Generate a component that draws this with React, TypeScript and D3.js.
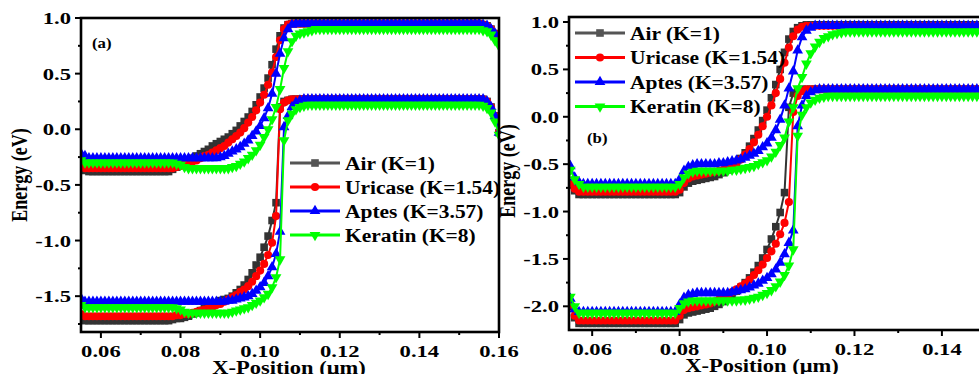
import React from "react";
import * as d3 from "d3";

const FONT = "'Liberation Serif', 'Times New Roman', serif";

const seriesNames = ["Air (K=1)", "Uricase (K=1.54)", "Aptes (K=3.57)", "Keratin (K=8)"];
const seriesColors = ["#333333", "#ff0000", "#0000ff", "#00ff00"];
const seriesShapes = ["square", "circle", "triangle", "triangleDown"];

// x grid: one point every 0.001 µm starting at xStart
const xStep = 0.001;
const xStartA = 0.055;
const xStartB = 0.055;

const xTicksA = [0.06, 0.08, 0.1, 0.12, 0.14, 0.16];
const xMinorA = [0.07, 0.09, 0.11, 0.13, 0.15];
const yTicksA = [-1.5, -1.0, -0.5, 0.0, 0.5, 1.0];
const yMinorA = [-1.75, -1.25, -0.75, -0.25, 0.25, 0.75];

const xTicksB = [0.06, 0.08, 0.1, 0.12, 0.14];
const xMinorB = [0.07, 0.09, 0.11, 0.13, 0.15];
const yTicksB = [-2.0, -1.5, -1.0, -0.5, 0.0, 0.5, 1.0];
const yMinorB = [-1.75, -1.25, -0.75, -0.25, 0.25, 0.75];

// ---- panel (a): upper (C) and lower (V) band per dielectric ----
const aAirC = [
  -0.36, -0.37, -0.38, -0.38, -0.38, -0.38, -0.38, -0.38, -0.38, -0.38,
  -0.38, -0.38, -0.38, -0.38, -0.38, -0.38, -0.38, -0.38, -0.38, -0.38,
  -0.38, -0.38, -0.38, -0.36, -0.34, -0.32, -0.3, -0.28, -0.26, -0.24,
  -0.22, -0.2, -0.18, -0.15, -0.13, -0.11, -0.09, -0.07, -0.04, -0.01,
  0.03, 0.07, 0.11, 0.16, 0.22, 0.29, 0.37, 0.46, 0.58, 0.72,
  0.84, 0.91, 0.94, 0.95, 0.95, 0.95, 0.95, 0.95, 0.95, 0.95,
  0.95, 0.95, 0.95, 0.95, 0.95, 0.95, 0.95, 0.95, 0.95, 0.95,
  0.95, 0.95, 0.95, 0.95, 0.95, 0.95, 0.95, 0.95, 0.95, 0.95,
  0.95, 0.95, 0.95, 0.95, 0.95, 0.95, 0.95, 0.95, 0.95, 0.95,
  0.95, 0.95, 0.95, 0.95, 0.95, 0.95, 0.95, 0.95, 0.95, 0.95,
  0.95, 0.94, 0.93, 0.9, 0.86, 0.8,
];
const aUriC = [
  -0.33, -0.35, -0.35, -0.35, -0.35, -0.35, -0.35, -0.35, -0.35, -0.35,
  -0.35, -0.35, -0.35, -0.35, -0.35, -0.35, -0.35, -0.35, -0.35, -0.35,
  -0.35, -0.35, -0.35, -0.35, -0.34, -0.33, -0.32, -0.31, -0.29, -0.28,
  -0.26, -0.24, -0.23, -0.21, -0.19, -0.17, -0.15, -0.12, -0.09, -0.06,
  -0.03, 0.01, 0.06, 0.11, 0.17, 0.24, 0.31, 0.4, 0.51, 0.65,
  0.8, 0.9, 0.94, 0.95, 0.95, 0.95, 0.95, 0.95, 0.95, 0.95,
  0.95, 0.95, 0.95, 0.95, 0.95, 0.95, 0.95, 0.95, 0.95, 0.95,
  0.95, 0.95, 0.95, 0.95, 0.95, 0.95, 0.95, 0.95, 0.95, 0.95,
  0.95, 0.95, 0.95, 0.95, 0.95, 0.95, 0.95, 0.95, 0.95, 0.95,
  0.95, 0.95, 0.95, 0.95, 0.95, 0.95, 0.95, 0.95, 0.95, 0.95,
  0.95, 0.94, 0.93, 0.9, 0.86, 0.8,
];
const aAptC = [
  -0.22, -0.24, -0.26, -0.26, -0.26, -0.26, -0.26, -0.26, -0.26, -0.26,
  -0.26, -0.26, -0.26, -0.26, -0.26, -0.26, -0.26, -0.26, -0.26, -0.26,
  -0.26, -0.26, -0.26, -0.26, -0.26, -0.26, -0.26, -0.26, -0.26, -0.26,
  -0.26, -0.26, -0.26, -0.26, -0.26, -0.25, -0.24, -0.22, -0.2, -0.18,
  -0.16, -0.13, -0.1, -0.06, -0.02, 0.03, 0.1, 0.19, 0.32, 0.5,
  0.68, 0.82, 0.9, 0.94, 0.95, 0.95, 0.95, 0.95, 0.95, 0.95,
  0.95, 0.95, 0.95, 0.95, 0.95, 0.95, 0.95, 0.95, 0.95, 0.95,
  0.95, 0.95, 0.95, 0.95, 0.95, 0.95, 0.95, 0.95, 0.95, 0.95,
  0.95, 0.95, 0.95, 0.95, 0.95, 0.95, 0.95, 0.95, 0.95, 0.95,
  0.95, 0.95, 0.95, 0.95, 0.95, 0.95, 0.95, 0.95, 0.95, 0.95,
  0.95, 0.94, 0.93, 0.9, 0.86, 0.8,
];
const aKerC = [
  -0.28, -0.3, -0.3, -0.3, -0.3, -0.3, -0.3, -0.3, -0.3, -0.3,
  -0.3, -0.3, -0.3, -0.3, -0.3, -0.3, -0.3, -0.3, -0.3, -0.3,
  -0.3, -0.3, -0.3, -0.3, -0.31, -0.32, -0.34, -0.35, -0.35, -0.35,
  -0.35, -0.35, -0.35, -0.35, -0.35, -0.35, -0.35, -0.35, -0.34, -0.33,
  -0.31, -0.29, -0.26, -0.23, -0.19, -0.14, -0.07, 0.0, 0.09, 0.2,
  0.36, 0.55, 0.7, 0.79, 0.84, 0.86, 0.87, 0.88, 0.89, 0.9,
  0.9, 0.9, 0.9, 0.9, 0.9, 0.9, 0.9, 0.9, 0.9, 0.9,
  0.9, 0.9, 0.9, 0.9, 0.9, 0.9, 0.9, 0.9, 0.9, 0.9,
  0.9, 0.9, 0.9, 0.9, 0.9, 0.9, 0.9, 0.9, 0.9, 0.9,
  0.9, 0.9, 0.9, 0.9, 0.9, 0.9, 0.9, 0.9, 0.9, 0.9,
  0.9, 0.89, 0.88, 0.85, 0.8, 0.75,
];
const aAirV = [
  -1.7, -1.72, -1.72, -1.72, -1.72, -1.72, -1.72, -1.72, -1.72, -1.72,
  -1.72, -1.72, -1.72, -1.72, -1.72, -1.72, -1.72, -1.72, -1.72, -1.72,
  -1.72, -1.72, -1.72, -1.71, -1.7, -1.7, -1.69, -1.68, -1.66, -1.65,
  -1.63, -1.61, -1.6, -1.58, -1.56, -1.54, -1.53, -1.52, -1.5, -1.47,
  -1.44, -1.4, -1.35, -1.29, -1.22, -1.15, -1.06, -0.96, -0.82, -0.66,
  0.2, 0.25, 0.26, 0.27, 0.27, 0.27, 0.27, 0.27, 0.27, 0.27,
  0.27, 0.27, 0.27, 0.27, 0.27, 0.27, 0.27, 0.27, 0.27, 0.27,
  0.27, 0.27, 0.27, 0.27, 0.27, 0.27, 0.27, 0.27, 0.27, 0.27,
  0.27, 0.27, 0.27, 0.27, 0.27, 0.27, 0.27, 0.27, 0.27, 0.27,
  0.27, 0.27, 0.27, 0.27, 0.27, 0.27, 0.27, 0.27, 0.27, 0.27,
  0.27, 0.27, 0.25, 0.2, 0.12, -0.03,
];
const aUriV = [
  -1.66, -1.68, -1.68, -1.68, -1.68, -1.68, -1.68, -1.68, -1.68, -1.68,
  -1.68, -1.68, -1.68, -1.68, -1.68, -1.68, -1.68, -1.68, -1.68, -1.68,
  -1.68, -1.68, -1.68, -1.68, -1.67, -1.67, -1.66, -1.66, -1.65, -1.64,
  -1.63, -1.62, -1.61, -1.6, -1.58, -1.57, -1.55, -1.53, -1.51, -1.49,
  -1.46, -1.44, -1.41, -1.37, -1.32, -1.27, -1.21, -1.13, -1.02, -0.78,
  0.18, 0.24, 0.26, 0.27, 0.27, 0.27, 0.27, 0.27, 0.27, 0.27,
  0.27, 0.27, 0.27, 0.27, 0.27, 0.27, 0.27, 0.27, 0.27, 0.27,
  0.27, 0.27, 0.27, 0.27, 0.27, 0.27, 0.27, 0.27, 0.27, 0.27,
  0.27, 0.27, 0.27, 0.27, 0.27, 0.27, 0.27, 0.27, 0.27, 0.27,
  0.27, 0.27, 0.27, 0.27, 0.27, 0.27, 0.27, 0.27, 0.27, 0.27,
  0.27, 0.27, 0.25, 0.2, 0.12, -0.03,
];
const aAptV = [
  -1.52, -1.55, -1.55, -1.55, -1.55, -1.55, -1.55, -1.55, -1.55, -1.55,
  -1.55, -1.55, -1.55, -1.55, -1.55, -1.55, -1.55, -1.55, -1.55, -1.55,
  -1.55, -1.55, -1.55, -1.55, -1.55, -1.55, -1.55, -1.55, -1.55, -1.55,
  -1.55, -1.55, -1.55, -1.55, -1.55, -1.55, -1.55, -1.54, -1.54, -1.53,
  -1.52, -1.51, -1.5, -1.48, -1.45, -1.42, -1.38, -1.32, -1.24, -1.12,
  -0.92, 0.02, 0.12, 0.2, 0.24, 0.26, 0.27, 0.27, 0.27, 0.27,
  0.27, 0.27, 0.27, 0.27, 0.27, 0.27, 0.27, 0.27, 0.27, 0.27,
  0.27, 0.27, 0.27, 0.27, 0.27, 0.27, 0.27, 0.27, 0.27, 0.27,
  0.27, 0.27, 0.27, 0.27, 0.27, 0.27, 0.27, 0.27, 0.27, 0.27,
  0.27, 0.27, 0.27, 0.27, 0.27, 0.27, 0.27, 0.27, 0.27, 0.27,
  0.27, 0.27, 0.25, 0.2, 0.12, -0.03,
];
const aKerV = [
  -1.58, -1.6, -1.6, -1.6, -1.6, -1.6, -1.6, -1.6, -1.6, -1.6,
  -1.6, -1.6, -1.6, -1.6, -1.6, -1.6, -1.6, -1.6, -1.6, -1.6,
  -1.6, -1.6, -1.6, -1.6, -1.61, -1.62, -1.64, -1.65, -1.65, -1.65,
  -1.65, -1.65, -1.65, -1.65, -1.65, -1.65, -1.65, -1.65, -1.64, -1.63,
  -1.62, -1.61, -1.6, -1.58, -1.56, -1.54, -1.51, -1.48, -1.42, -1.33,
  -1.17, -0.1, 0.08, 0.14, 0.18, 0.2, 0.21, 0.22, 0.22, 0.22,
  0.22, 0.22, 0.22, 0.22, 0.22, 0.22, 0.22, 0.22, 0.22, 0.22,
  0.22, 0.22, 0.22, 0.22, 0.22, 0.22, 0.22, 0.22, 0.22, 0.22,
  0.22, 0.22, 0.22, 0.22, 0.22, 0.22, 0.22, 0.22, 0.22, 0.22,
  0.22, 0.22, 0.22, 0.22, 0.22, 0.22, 0.22, 0.22, 0.22, 0.22,
  0.22, 0.21, 0.19, 0.15, 0.07, -0.05,
];

// ---- panel (b) ----
const bAirC = [
  -0.72, -0.78, -0.82, -0.82, -0.82, -0.82, -0.82, -0.82, -0.82, -0.82,
  -0.82, -0.82, -0.82, -0.82, -0.82, -0.82, -0.82, -0.82, -0.82, -0.82,
  -0.82, -0.82, -0.82, -0.82, -0.82, -0.8, -0.74, -0.7, -0.68, -0.67,
  -0.66, -0.65, -0.64, -0.63, -0.61, -0.59, -0.56, -0.53, -0.49, -0.44,
  -0.38, -0.31, -0.23, -0.14, -0.04, 0.07, 0.2, 0.34, 0.5, 0.68,
  0.82, 0.9, 0.94, 0.96, 0.97, 0.97, 0.97, 0.97, 0.97, 0.97,
  0.97, 0.97, 0.97, 0.97, 0.97, 0.97, 0.97, 0.97, 0.97, 0.97,
  0.97, 0.97, 0.97, 0.97, 0.97, 0.97, 0.97, 0.97, 0.97, 0.97,
  0.97, 0.97, 0.97, 0.97, 0.97, 0.97, 0.97, 0.97, 0.97, 0.97,
  0.97, 0.97, 0.97, 0.97, 0.97, 0.97,
];
const bUriC = [
  -0.7, -0.76, -0.79, -0.79, -0.79, -0.79, -0.79, -0.79, -0.79, -0.79,
  -0.79, -0.79, -0.79, -0.79, -0.79, -0.79, -0.79, -0.79, -0.79, -0.79,
  -0.79, -0.79, -0.79, -0.79, -0.79, -0.77, -0.7, -0.65, -0.63, -0.62,
  -0.61, -0.6, -0.59, -0.58, -0.57, -0.56, -0.54, -0.52, -0.49, -0.45,
  -0.4, -0.34, -0.27, -0.19, -0.1, 0.0, 0.12, 0.25, 0.4, 0.57,
  0.73, 0.85, 0.92, 0.95, 0.96, 0.96, 0.96, 0.96, 0.96, 0.96,
  0.96, 0.96, 0.96, 0.96, 0.96, 0.96, 0.96, 0.96, 0.96, 0.96,
  0.96, 0.96, 0.96, 0.96, 0.96, 0.96, 0.96, 0.96, 0.96, 0.96,
  0.96, 0.96, 0.96, 0.96, 0.96, 0.96, 0.96, 0.96, 0.96, 0.96,
  0.96, 0.96, 0.96, 0.96, 0.96, 0.96,
];
const bAptC = [
  -0.52, -0.64, -0.69, -0.71, -0.71, -0.71, -0.71, -0.71, -0.71, -0.71,
  -0.71, -0.71, -0.71, -0.71, -0.71, -0.71, -0.71, -0.71, -0.71, -0.71,
  -0.71, -0.71, -0.71, -0.71, -0.71, -0.66, -0.57, -0.53, -0.51, -0.5,
  -0.5, -0.5, -0.5, -0.5, -0.49, -0.49, -0.48, -0.47, -0.46, -0.45,
  -0.43, -0.41, -0.39, -0.36, -0.32, -0.28, -0.22, -0.14, -0.03, 0.12,
  0.3, 0.48, 0.7, 0.84, 0.91, 0.94, 0.96, 0.96, 0.96, 0.96,
  0.96, 0.96, 0.96, 0.96, 0.96, 0.96, 0.96, 0.96, 0.96, 0.96,
  0.96, 0.96, 0.96, 0.96, 0.96, 0.96, 0.96, 0.96, 0.96, 0.96,
  0.96, 0.96, 0.96, 0.96, 0.96, 0.96, 0.96, 0.96, 0.96, 0.96,
  0.96, 0.96, 0.96, 0.96, 0.96, 0.96,
];
const bKerC = [
  -0.56, -0.66, -0.71, -0.74, -0.74, -0.74, -0.74, -0.74, -0.74, -0.74,
  -0.74, -0.74, -0.74, -0.74, -0.74, -0.74, -0.74, -0.74, -0.74, -0.74,
  -0.74, -0.74, -0.74, -0.74, -0.74, -0.71, -0.64, -0.6, -0.58, -0.57,
  -0.57, -0.57, -0.57, -0.57, -0.57, -0.57, -0.57, -0.56, -0.56, -0.55,
  -0.54, -0.53, -0.52, -0.5, -0.48, -0.46, -0.42, -0.37, -0.3, -0.22,
  -0.05, 0.1, 0.3, 0.42, 0.56, 0.67, 0.74, 0.79, 0.83, 0.85,
  0.87, 0.88, 0.89, 0.9, 0.9, 0.9, 0.9, 0.9, 0.9, 0.9,
  0.9, 0.9, 0.9, 0.9, 0.9, 0.9, 0.9, 0.9, 0.9, 0.9,
  0.9, 0.9, 0.9, 0.9, 0.9, 0.9, 0.9, 0.9, 0.9, 0.9,
  0.9, 0.9, 0.9, 0.9, 0.9, 0.9,
];
const bAirV = [
  -2.0, -2.12, -2.18, -2.18, -2.18, -2.18, -2.18, -2.18, -2.18, -2.18,
  -2.18, -2.18, -2.18, -2.18, -2.18, -2.18, -2.18, -2.18, -2.18, -2.18,
  -2.18, -2.18, -2.18, -2.18, -2.18, -2.14, -2.09, -2.07, -2.06, -2.05,
  -2.04, -2.03, -2.02, -2.0, -1.98, -1.95, -1.92, -1.89, -1.84, -1.8,
  -1.75, -1.7, -1.64, -1.57, -1.49, -1.4, -1.29, -1.16, -1.01, -0.8,
  0.1, 0.25, 0.28, 0.29, 0.29, 0.29, 0.29, 0.29, 0.29, 0.29,
  0.29, 0.29, 0.29, 0.29, 0.29, 0.29, 0.29, 0.29, 0.29, 0.29,
  0.29, 0.29, 0.29, 0.29, 0.29, 0.29, 0.29, 0.29, 0.29, 0.29,
  0.29, 0.29, 0.29, 0.29, 0.29, 0.29, 0.29, 0.29, 0.29, 0.29,
  0.29, 0.29, 0.29, 0.29, 0.29, 0.29,
];
const bUriV = [
  -1.98, -2.1, -2.15, -2.15, -2.15, -2.15, -2.15, -2.15, -2.15, -2.15,
  -2.15, -2.15, -2.15, -2.15, -2.15, -2.15, -2.15, -2.15, -2.15, -2.15,
  -2.15, -2.15, -2.15, -2.15, -2.15, -2.1, -2.04, -2.02, -2.01, -2.0,
  -1.99, -1.98, -1.97, -1.95, -1.93, -1.91, -1.88, -1.85, -1.82, -1.79,
  -1.76, -1.72, -1.67, -1.62, -1.56, -1.49, -1.42, -1.34, -1.24, -1.12,
  -0.9, 0.05, 0.22, 0.27, 0.29, 0.29, 0.29, 0.29, 0.29, 0.29,
  0.29, 0.29, 0.29, 0.29, 0.29, 0.29, 0.29, 0.29, 0.29, 0.29,
  0.29, 0.29, 0.29, 0.29, 0.29, 0.29, 0.29, 0.29, 0.29, 0.29,
  0.29, 0.29, 0.29, 0.29, 0.29, 0.29, 0.29, 0.29, 0.29, 0.29,
  0.29, 0.29, 0.29, 0.29, 0.29, 0.29,
];
const bAptV = [
  -1.92, -2.03, -2.06, -2.06, -2.06, -2.06, -2.06, -2.06, -2.06, -2.06,
  -2.06, -2.06, -2.06, -2.06, -2.06, -2.06, -2.06, -2.06, -2.06, -2.06,
  -2.06, -2.06, -2.06, -2.06, -2.06, -1.98, -1.91, -1.88, -1.87, -1.86,
  -1.86, -1.86, -1.86, -1.86, -1.86, -1.86, -1.86, -1.85, -1.84, -1.83,
  -1.82, -1.8, -1.78, -1.76, -1.73, -1.7, -1.66, -1.61, -1.54, -1.45,
  -1.33, -1.2, -0.1, 0.12, 0.22, 0.26, 0.28, 0.29, 0.29, 0.29,
  0.29, 0.29, 0.29, 0.29, 0.29, 0.29, 0.29, 0.29, 0.29, 0.29,
  0.29, 0.29, 0.29, 0.29, 0.29, 0.29, 0.29, 0.29, 0.29, 0.29,
  0.29, 0.29, 0.29, 0.29, 0.29, 0.29, 0.29, 0.29, 0.29, 0.29,
  0.29, 0.29, 0.29, 0.29, 0.29, 0.29,
];
const bKerV = [
  -1.9, -2.0, -2.07, -2.07, -2.07, -2.07, -2.07, -2.07, -2.07, -2.07,
  -2.07, -2.07, -2.07, -2.07, -2.07, -2.07, -2.07, -2.07, -2.07, -2.07,
  -2.07, -2.07, -2.07, -2.07, -2.07, -2.02, -1.97, -1.95, -1.94, -1.94,
  -1.94, -1.94, -1.94, -1.94, -1.94, -1.94, -1.94, -1.94, -1.94, -1.93,
  -1.93, -1.92, -1.91, -1.9, -1.88, -1.86, -1.83, -1.79, -1.74, -1.67,
  -1.57, -1.4, -0.2, 0.02, 0.1, 0.15, 0.18, 0.2, 0.21, 0.22,
  0.22, 0.22, 0.22, 0.22, 0.22, 0.22, 0.22, 0.22, 0.22, 0.22,
  0.22, 0.22, 0.22, 0.22, 0.22, 0.22, 0.22, 0.22, 0.22, 0.22,
  0.22, 0.22, 0.22, 0.22, 0.22, 0.22, 0.22, 0.22, 0.22, 0.22,
  0.22, 0.22, 0.22, 0.22, 0.22, 0.22,
];

const markerPath = (shape: string) => {
  if (shape === "square") return d3.symbol(d3.symbolSquare, 58)() as string;
  if (shape === "circle") return d3.symbol(d3.symbolCircle, 52)() as string;
  return d3.symbol(d3.symbolTriangle, 50)() as string;
};

type PanelProps = {
  id: string;
  left: number;
  right: number;
  top: number;
  bottom: number;
  xDomain: [number, number];
  yDomain: [number, number];
  xTicks: number[];
  xMinor: number[];
  yTicks: number[];
  yMinor: number[];
  xStart: number;
  curves: number[][][];
  legendX: number;
  legendRows: number[];
  label: string;
  labelX: number;
  labelY: number;
  yTitleX: number;
  yTitleY: number;
  xTitleX: number;
};

const Marker = ({ shape, color, x, y }: { shape: string; color: string; x: number; y: number }) => (
  <path
    d={markerPath(shape)}
    fill={color}
    transform={`translate(${x},${y})${shape === "triangleDown" ? " rotate(180)" : ""}`}
  />
);

function Panel(p: PanelProps) {
  const x = d3.scaleLinear().domain(p.xDomain).range([p.left, p.right]);
  const y = d3.scaleLinear().domain(p.yDomain).range([p.bottom, p.top]);
  const xAt = (i: number) => x(p.xStart + i * xStep);
  const line = d3
    .line<number>()
    .x((_, i) => xAt(i))
    .y((d) => y(d));
  const sx = 1.33;

  return (
    <g>
      <defs>
        <clipPath id={`clip-${p.id}`}>
          <rect x={p.left} y={p.top} width={p.right - p.left} height={p.bottom - p.top} />
        </clipPath>
      </defs>

      {/* curves */}
      <g clipPath={`url(#clip-${p.id})`}>
        {p.curves.map((pair, s) =>
          pair.map((vals, k) => (
            <g key={`${s}-${k}`}>
              <path d={line(vals) as string} fill="none" stroke={seriesColors[s]} strokeWidth={2} />
              {vals.map((v, i) => (
                <Marker key={i} shape={seriesShapes[s]} color={seriesColors[s]} x={xAt(i)} y={y(v)} />
              ))}
            </g>
          ))
        )}
      </g>

      {/* frame */}
      <rect
        x={p.left}
        y={p.top}
        width={p.right - p.left}
        height={p.bottom - p.top}
        fill="none"
        stroke="#000"
        strokeWidth={2.6}
      />

      {/* y axis */}
      {p.yTicks.map((t) => (
        <g key={`yt${t}`}>
          <line x1={p.left - 6} x2={p.left} y1={y(t)} y2={y(t)} stroke="#000" strokeWidth={2} />
          <text
            transform={`translate(${p.left - 10},${y(t) + 6}) scale(${sx},1)`}
            textAnchor="end"
            fontFamily={FONT}
            fontWeight="bold"
            fontSize={17}
          >
            {t.toFixed(1)}
          </text>
        </g>
      ))}
      {p.yMinor.map((t) => (
        <line key={`ym${t}`} x1={p.left - 3} x2={p.left} y1={y(t)} y2={y(t)} stroke="#000" strokeWidth={2} />
      ))}

      {/* x axis */}
      {p.xTicks.map((t) => (
        <g key={`xt${t}`}>
          <line x1={x(t)} x2={x(t)} y1={p.bottom} y2={p.bottom + 6} stroke="#000" strokeWidth={2} />
          <text
            transform={`translate(${x(t)},${p.bottom + 25}) scale(${sx},1)`}
            textAnchor="middle"
            fontFamily={FONT}
            fontWeight="bold"
            fontSize={17}
          >
            {t.toFixed(2)}
          </text>
        </g>
      ))}
      {p.xMinor.map((t) => (
        <line key={`xm${t}`} x1={x(t)} x2={x(t)} y1={p.bottom} y2={p.bottom + 3} stroke="#000" strokeWidth={2} />
      ))}

      {/* titles */}
      <text
        transform={`translate(${p.yTitleX},${p.yTitleY}) scale(1.25,1) rotate(-90)`}
        textAnchor="middle"
        fontFamily={FONT}
        fontWeight="bold"
        fontSize={18}
      >
        Energy (eV)
      </text>
      <text
        transform={`translate(${p.xTitleX},${p.bottom + 42}) scale(1.25,1)`}
        textAnchor="middle"
        fontFamily={FONT}
        fontWeight="bold"
        fontSize={18}
      >
        X-Position (μm)
      </text>
      <text
        transform={`translate(${p.labelX},${p.labelY}) scale(1.2,1)`}
        fontFamily={FONT}
        fontWeight="bold"
        fontSize={14}
      >
        {p.label}
      </text>

      {/* legend */}
      {seriesNames.map((name, s) => (
        <g key={name}>
          <line
            x1={p.legendX}
            x2={p.legendX + 50}
            y1={p.legendRows[s]}
            y2={p.legendRows[s]}
            stroke={seriesColors[s] === "#333333" ? "#555555" : seriesColors[s]}
            strokeWidth={3}
          />
          <Marker
            shape={seriesShapes[s]}
            color={seriesColors[s] === "#333333" ? "#555555" : seriesColors[s]}
            x={p.legendX + 25}
            y={p.legendRows[s]}
          />
          <text
            transform={`translate(${p.legendX + 55},${p.legendRows[s] + 6.5}) scale(1.16,1)`}
            fontFamily={FONT}
            fontWeight="bold"
            fontSize={18.5}
          >
            {name}
          </text>
        </g>
      ))}
    </g>
  );
}

export default function App() {
  return (
    <svg
      width={979}
      height={374}
      style={{ position: "absolute", left: 0, top: 0, background: "#fff" }}
    >
      <Panel
        id="a"
        left={81}
        right={499}
        top={18}
        bottom={332}
        xDomain={[0.055, 0.16]}
        yDomain={[-1.822, 1.0]}
        xTicks={xTicksA}
        xMinor={xMinorA}
        yTicks={yTicksA}
        yMinor={yMinorA}
        xStart={xStartA}
        curves={[
          [aAirC, aAirV],
          [aUriC, aUriV],
          [aAptC, aAptV],
          [aKerC, aKerV],
        ]}
        legendX={290}
        legendRows={[163, 187, 211, 235]}
        label="(a)"
        labelX={92}
        labelY={48}
        yTitleX={27}
        yTitleY={175}
        xTitleX={289}
      />
      <Panel
        id="b"
        left={569}
        right={990}
        top={17}
        bottom={330}
        xDomain={[0.0547, 0.151]}
        yDomain={[-2.25, 1.053]}
        xTicks={xTicksB}
        xMinor={xMinorB}
        yTicks={yTicksB}
        yMinor={yMinorB}
        xStart={xStartB}
        curves={[
          [bAirC, bAirV],
          [bUriC, bUriV],
          [bAptC, bAptV],
          [bKerC, bKerV],
        ]}
        legendX={575}
        legendRows={[33, 57.5, 82, 106.5]}
        label="(b)"
        labelX={587}
        labelY={143}
        yTitleX={515}
        yTitleY={171}
        xTitleX={762}
      />
    </svg>
  );
}
